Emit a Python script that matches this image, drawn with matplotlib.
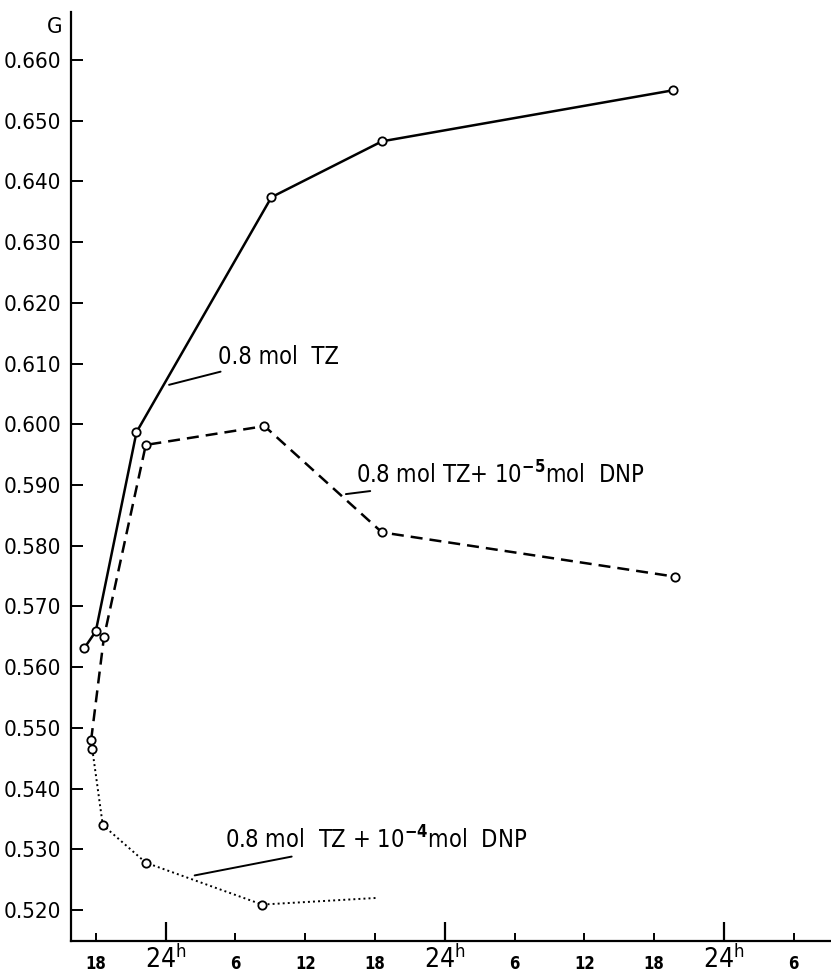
import matplotlib
matplotlib.use('Agg')
import matplotlib.pyplot as plt
from matplotlib import font_manager as fm


def pick_condensed():
    cands = [('Liberation Sans Narrow', 'normal'), ('DejaVu Sans', 'condensed'),
             ('Roboto Condensed', 'normal'), ('Open Sans Condensed', 'normal'),
             ('Open Sans', 'condensed'), ('Noto Sans', 'condensed'),
             ('Roboto', 'condensed'), ('Inter', 'condensed'), ('Noto Sans Display', 'condensed')]
    for fam, st in cands:
        try:
            path = fm.findfont(fm.FontProperties(family=fam, stretch=st),
                               fallback_to_default=False)
        except Exception:
            continue
        p = path.lower()
        if 'condensed' in p or 'narrow' in p or 'cond' in p:
            return path
    return None


COND = pick_condensed()
if COND is not None:
    fm.fontManager.addfont(COND)
    FONT = fm.FontProperties(fname=COND).get_name()
    SCALE = 1.0
else:
    FONT = 'DejaVu Sans'
    SCALE = 0.8
plt.rcParams['font.family'] = [FONT, 'DejaVu Sans']
plt.rcParams['mathtext.fontset'] = 'custom'
plt.rcParams['mathtext.rm'] = FONT
plt.rcParams['mathtext.bf'] = FONT + ':bold'
if COND is not None:
    plt.rcParams['font.stretch'] = 'condensed'

# ---- data (time in hours, G value) ----
time_tz = [17.0, 18.0, 21.5, 33.1, 42.6, 67.6]
g_tz = [0.5631, 0.5659, 0.5987, 0.6374, 0.6466, 0.6550]

time_dnp5 = [17.6, 18.7, 22.3, 32.5, 42.6, 67.8]
g_dnp5 = [0.5480, 0.5649, 0.5966, 0.5997, 0.5822, 0.5749]

time_dnp4 = [17.7, 18.6, 22.3, 32.3, 42.2]
g_dnp4 = [0.5465, 0.5340, 0.5278, 0.5209, 0.5220]

y_ticks = [0.520, 0.530, 0.540, 0.550, 0.560, 0.570, 0.580, 0.590,
           0.600, 0.610, 0.620, 0.630, 0.640, 0.650, 0.660]
y_labels = ['0.520', '0.530', '0.540', '0.550', '0.560', '0.570', '0.580',
            '0.590', '0.600', '0.610', '0.620', '0.630', '0.640', '0.650', '0.660']

day_ticks = [24, 48, 72]
day_labels = [r'24$^{\mathregular{h}}$'] * 3
hour_ticks = [18, 30, 36, 42, 54, 60, 66, 78]
hour_labels = ['18', '6', '12', '18', '6', '12', '18', '6']

label_tz = '0.8 mol  TZ'
label_dnp5 = r'0.8 mol TZ+ 10$^{\mathbf{-5}}$mol  DNP'
label_dnp4 = r'0.8 mol  TZ + 10$^{\mathbf{-4}}$mol  DNP'

fig = plt.figure(figsize=(8.31, 9.74), dpi=100)
ax = fig.add_axes([71 / 831, 1 - 941 / 974, 1 - 71 / 831, (941 - 12) / 974])

mk = dict(marker='o', ms=6, mfc='white', mec='black', mew=1.3, color='black')
ax.plot(time_tz, g_tz, lw=1.8, ls='-', **mk, zorder=3)
ax.plot(time_dnp5, g_dnp5, lw=1.8, ls=(0, (4.8, 2.8)), **mk, zorder=3)
ax.plot(time_dnp4, g_dnp4, lw=1.4, ls=(0, (1, 1.6)), markevery=[0, 1, 2, 3], **mk, zorder=3)

ax.set_xlim(15.87, 81.2)
ax.set_ylim(0.5149, 0.6679)

for s in ['top', 'right']:
    ax.spines[s].set_visible(False)
for s in ['left', 'bottom']:
    ax.spines[s].set_linewidth(1.6)

ax.set_yticks(y_ticks, y_labels)
ax.tick_params(axis='y', direction='in', length=8.6, width=1.4, pad=7, labelsize=16 * SCALE)

ax.set_xticks(day_ticks, day_labels)
ax.set_xticks(hour_ticks, hour_labels, minor=True)
ax.tick_params(axis='x', which='major', direction='in', length=14, width=1.6, pad=3,
               labelsize=19 * SCALE)
ax.tick_params(axis='x', which='minor', direction='in', length=6, width=1.4, pad=10,
               labelsize=12 * SCALE)
for t in ax.get_xticklabels(minor=True):
    t.set_fontweight('bold')

fig.text(62 / 831, 1 - 27 / 974, 'G', ha='right', va='center', fontsize=16 * SCALE)

ann = dict(arrowprops=dict(arrowstyle='-', lw=1.4, color='black', shrinkA=0, shrinkB=0),
           fontsize=17 * SCALE, va='center', ha='left')
ax.annotate(label_tz, xy=(24.3, 0.6065), xytext=(28.5, 0.6111), **ann)
ax.annotate(label_dnp5, xy=(39.5, 0.5885), xytext=(40.4, 0.5917), **ann)
ax.annotate(label_dnp4, xy=(26.5, 0.5257), xytext=(29.1, 0.5315), **ann)

fig.savefig('out.png', dpi=100)
